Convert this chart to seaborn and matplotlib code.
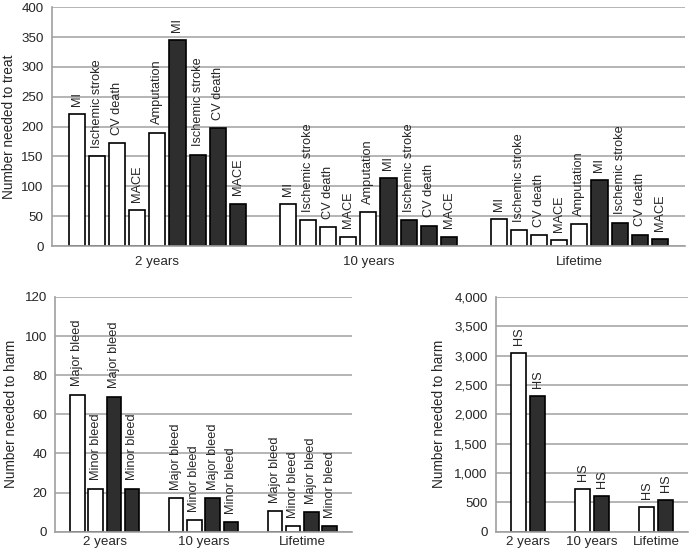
import pandas as pd
import matplotlib.pyplot as plt
import seaborn as sns
from matplotlib.ticker import FuncFormatter

sns.set_theme(style="white")
plt.rcParams['font.family'] = ['Liberation Sans', 'DejaVu Sans']

periods = ['2 years', '10 years', 'Lifetime']

# number needed to treat - first 5 bars white, last 4 dark
treat_labels = ['MI', 'Ischemic stroke', 'CV death', 'MACE', 'Amputation',
                'MI', 'Ischemic stroke', 'CV death', 'MACE']
treat_fill = ['white'] * 5 + ['dark'] * 4
treat_2y = [221, 151, 172, 60, 190, 345, 153, 197, 71]
treat_10y = [70, 43, 32, 16, 57, 114, 43, 34, 16]
treat_life = [45, 27, 18, 10, 37, 110, 39, 19, 12]

# number needed to harm - bleeds
bleed_labels = ['Major bleed', 'Minor bleed', 'Major bleed', 'Minor bleed']
bleed_fill = ['white', 'white', 'dark', 'dark']
bleed_2y = [70, 22, 69, 22]
bleed_10y = [17, 6, 17, 5]
bleed_life = [10.5, 3, 10, 3]

# number needed to harm - haemorrhagic stroke
hs_labels = ['HS', 'HS']
hs_fill = ['white', 'dark']
hs_2y = [3040, 2310]
hs_10y = [730, 600]
hs_life = [415, 535]

colors = {'white': 'white', 'dark': '#2e2e2e'}


def draw(ax, labels, fills, by_period, width, ymax, step, ylabel, xpad, ypad, comma=False):
    keys = [str(i) for i in range(len(labels))]
    rows = []
    for period, vals in zip(periods, by_period):
        for k, v in zip(keys, vals):
            rows.append({'period': period, 'slot': k, 'value': v})
    df = pd.DataFrame(rows)
    pal = {k: colors[f] for k, f in zip(keys, fills)}
    sns.barplot(data=df, x='period', y='value', hue='slot', hue_order=keys, order=periods,
                palette=pal, saturation=1, width=width, gap=0.2, edgecolor='black',
                linewidth=1.2, legend=False, ax=ax)
    for cont, lab in zip(ax.containers, labels):
        ax.bar_label(cont, labels=[lab] * len(cont), rotation=90, padding=6, fontsize=9.2)

    ax.set_ylim(0, ymax)
    ax.set_yticks(range(0, ymax + 1, step))
    if comma:
        ax.yaxis.set_major_formatter(FuncFormatter(lambda v, p: f'{int(v):,}'))
    ax.set_xlabel('')
    ax.set_ylabel(ylabel, fontsize=9.8, labelpad=ypad)
    ax.yaxis.grid(True, color='#a8a8a8', linewidth=1.2)
    ax.set_axisbelow(True)
    for s in ['top', 'right']:
        ax.spines[s].set_visible(False)
    for s in ['left', 'bottom']:
        ax.spines[s].set_color('#a0a0a0')
        ax.spines[s].set_linewidth(1.2)
    ax.tick_params(axis='y', length=4, color='#a0a0a0', labelsize=9.6, pad=2)
    ax.tick_params(axis='x', length=0, labelsize=9.6, pad=xpad)


fig = plt.figure(figsize=(6.91, 5.53), dpi=100)
ax1 = fig.add_axes([0.075, 0.555, 0.916, 0.432])
ax2 = fig.add_axes([0.080, 0.0385, 0.429, 0.4245])
ax3 = fig.add_axes([0.718, 0.0385, 0.278, 0.4245])

draw(ax1, treat_labels, treat_fill, [treat_2y, treat_10y, treat_life], 0.86, 400, 50,
     'Number needed to treat', xpad=7, ypad=4)
draw(ax2, bleed_labels, bleed_fill, [bleed_2y, bleed_10y, bleed_life], 0.74, 120, 20,
     'Number needed to harm', xpad=3, ypad=5)
draw(ax3, hs_labels, hs_fill, [hs_2y, hs_10y, hs_life], 0.59, 4000, 500,
     'Number needed to harm', xpad=3, ypad=6, comma=True)

fig.savefig('out.png', dpi=100)
